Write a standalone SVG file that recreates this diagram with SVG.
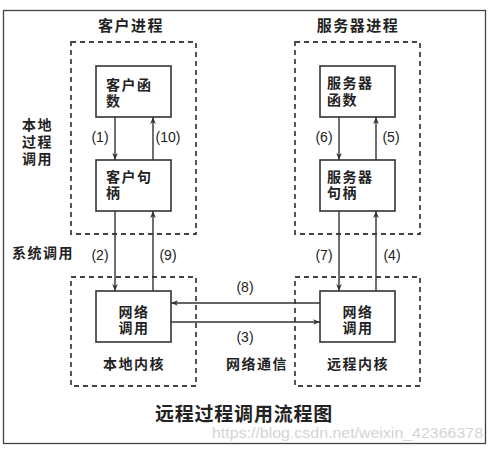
<svg xmlns="http://www.w3.org/2000/svg" width="494" height="453" viewBox="0 0 494 453">
<style>
.zh{font-family:"Liberation Sans","Noto Sans CJK SC",sans-serif;font-weight:bold;fill:#222}
.n{font-size:14px;letter-spacing:1.5px}
.t{font-size:15px;letter-spacing:1.5px}
.lbl{font-family:"Liberation Sans",Arial,sans-serif;font-size:14px;fill:#222}
.box{fill:#fff;stroke:#333;stroke-width:1.6}
.dash{fill:none;stroke:#444;stroke-width:1.8;stroke-dasharray:5 4}
.ln{stroke:#333;stroke-width:1.4;fill:none}
</style>
<defs>
<marker id="ah" viewBox="0 0 10 10" refX="10" refY="5" markerWidth="8" markerHeight="7" markerUnits="userSpaceOnUse" orient="auto">
<path d="M0,1 L10,5 L0,9 L3,5 Z" fill="#333"/>
</marker>
</defs>
<rect x="0" y="0" width="494" height="453" fill="#fff"/>
<rect x="3.5" y="10.5" width="482" height="433" fill="none" stroke="#444" stroke-width="1.3"/>

<g id="client-process">
<rect class="dash" x="71" y="42" width="125" height="192"/>
<text class="zh t" x="131" y="31" text-anchor="middle">客户进程</text>
</g>
<g id="server-process">
<rect class="dash" x="295" y="42" width="125" height="192"/>
<text class="zh t" x="358" y="31" text-anchor="middle">服务器进程</text>
</g>
<g id="local-kernel">
<rect class="dash" x="71" y="277" width="125" height="109"/>
<text class="zh n" x="134" y="369" text-anchor="middle">本地内核</text>
</g>
<g id="remote-kernel">
<rect class="dash" x="295" y="277" width="125" height="109"/>
<text class="zh n" x="358" y="369" text-anchor="middle">远程内核</text>
</g>

<g id="client-func">
<rect class="box" x="96" y="66" width="75" height="51"/>
<text class="zh n"><tspan x="106" y="90">客户函</tspan><tspan x="106" y="106">数</tspan></text>
</g>
<g id="client-stub">
<rect class="box" x="96" y="160" width="75" height="51"/>
<text class="zh n"><tspan x="106" y="182">客户句</tspan><tspan x="106" y="198">柄</tspan></text>
</g>
<g id="client-net">
<rect class="box" x="96" y="291" width="75" height="51"/>
<text class="zh n" text-anchor="middle"><tspan x="134" y="317">网络</tspan><tspan x="134" y="333">调用</tspan></text>
</g>
<g id="server-func">
<rect class="box" x="320" y="66" width="75" height="51"/>
<text class="zh n"><tspan x="327" y="88">服务器</tspan><tspan x="327" y="105">函数</tspan></text>
</g>
<g id="server-stub">
<rect class="box" x="320" y="160" width="75" height="51"/>
<text class="zh n"><tspan x="327" y="182">服务器</tspan><tspan x="327" y="198">句柄</tspan></text>
</g>
<g id="server-net">
<rect class="box" x="320" y="291" width="75" height="51"/>
<text class="zh n" text-anchor="middle"><tspan x="358" y="317">网络</tspan><tspan x="358" y="333">调用</tspan></text>
</g>

<g id="side-labels">
<text class="zh n"><tspan x="22" y="130">本地</tspan><tspan x="22" y="147">过程</tspan><tspan x="22" y="164">调用</tspan></text>
<text class="zh n" x="12" y="258">系统调用</text>
<text class="zh n" x="257" y="369" text-anchor="middle">网络通信</text>
</g>

<g id="connectors">
<line class="ln" x1="115" y1="117" x2="115" y2="160" marker-end="url(#ah)"/>
<line class="ln" x1="153" y1="160" x2="153" y2="117" marker-end="url(#ah)"/>
<line class="ln" x1="115" y1="211" x2="115" y2="291" marker-end="url(#ah)"/>
<line class="ln" x1="153" y1="291" x2="153" y2="211" marker-end="url(#ah)"/>
<line class="ln" x1="339" y1="117" x2="339" y2="160" marker-end="url(#ah)"/>
<line class="ln" x1="376" y1="160" x2="376" y2="117" marker-end="url(#ah)"/>
<line class="ln" x1="339" y1="211" x2="339" y2="291" marker-end="url(#ah)"/>
<line class="ln" x1="376" y1="291" x2="376" y2="211" marker-end="url(#ah)"/>
<line class="ln" x1="320" y1="303" x2="171" y2="303" marker-end="url(#ah)"/>
<line class="ln" x1="171" y1="322" x2="320" y2="322" marker-end="url(#ah)"/>
<text class="lbl" x="100" y="142" text-anchor="middle">(1)</text>
<text class="lbl" x="168" y="142" text-anchor="middle">(10)</text>
<text class="lbl" x="100" y="260" text-anchor="middle">(2)</text>
<text class="lbl" x="168" y="260" text-anchor="middle">(9)</text>
<text class="lbl" x="324" y="142" text-anchor="middle">(6)</text>
<text class="lbl" x="391" y="142" text-anchor="middle">(5)</text>
<text class="lbl" x="324" y="260" text-anchor="middle">(7)</text>
<text class="lbl" x="392" y="260" text-anchor="middle">(4)</text>
<text class="lbl" x="245" y="292" text-anchor="middle">(8)</text>
<text class="lbl" x="245" y="342" text-anchor="middle">(3)</text>
</g>

<text class="zh" x="244" y="421" text-anchor="middle" font-size="19" letter-spacing="0.8">远程过程调用流程图</text>
<text x="212" y="438" font-family="Liberation Sans,Arial,sans-serif" font-size="14" fill="#d4d4d4" textLength="271" lengthAdjust="spacingAndGlyphs">https://blog.csdn.net/weixin_42366378</text>
</svg>
